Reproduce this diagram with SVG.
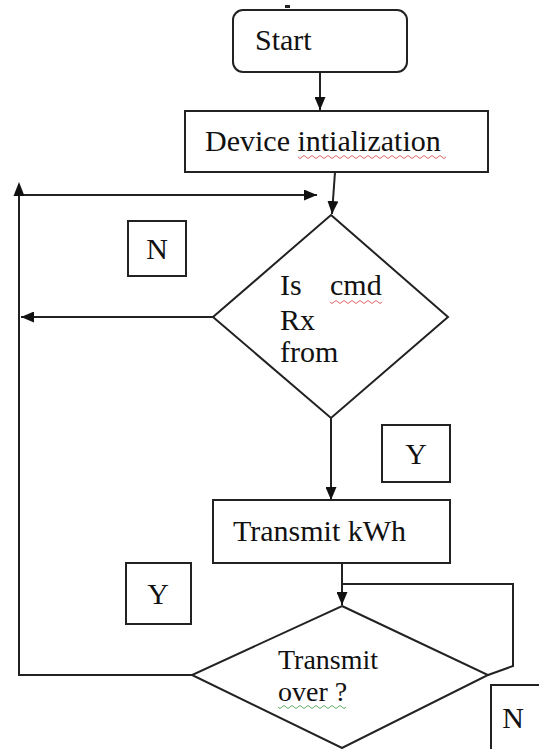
<svg xmlns="http://www.w3.org/2000/svg" width="539" height="749" viewBox="0 0 539 749">
<style>
.shape{fill:#fff;stroke:#222;stroke-width:2}
.lbl{fill:#fff;stroke:#222;stroke-width:2}
.t{font-family:"Liberation Serif","Times New Roman",serif;font-size:30px;fill:#111}
.c{fill:none;stroke:#222;stroke-width:2}
.sq{fill:none;stroke-width:1}
</style>
<defs>
<marker id="ah" viewBox="0 0 13 11" refX="13" refY="5.5" markerWidth="13" markerHeight="11" markerUnits="userSpaceOnUse" orient="auto">
<path d="M0,0 L13,5.5 L0,11 Z" fill="#111"/>
</marker>
</defs>
<rect width="539" height="749" fill="#fff"/>
<rect x="285" y="5" width="5" height="3" fill="#222"/>
<g id="connectors">
<line class="c" x1="320" y1="72" x2="320" y2="110" marker-end="url(#ah)"/>
<line class="c" x1="335" y1="172" x2="332" y2="214" marker-end="url(#ah)"/>
<line class="c" x1="20" y1="195" x2="317" y2="195" marker-end="url(#ah)"/>
<polyline class="c" points="192,675 19,675 19,196"/>
<path d="M19,182 L24.5,196 L13.5,196 Z" fill="#111"/>
<line class="c" x1="213" y1="317" x2="21" y2="317" marker-end="url(#ah)"/>
<line class="c" x1="331" y1="418" x2="331" y2="500" marker-end="url(#ah)"/>
<line class="c" x1="342" y1="563" x2="342" y2="605" marker-end="url(#ah)"/>
<polyline class="c" points="488,675 513,666 513,584 342,584"/>
</g>
<g id="start">
<rect class="shape" x="233" y="10" width="174" height="62" rx="10"/>
<text class="t" x="255" y="50">Start</text>
</g>
<g id="init">
<rect class="shape" x="185" y="111" width="303" height="61"/>
<text class="t" x="205" y="151">Device intialization</text>
<path class="sq" stroke="#d66" d="M298,157 q2,3 4,0 t4,0 t4,0 t4,0 t4,0 t4,0 t4,0 t4,0 t4,0 t4,0 t4,0 t4,0 t4,0 t4,0 t4,0 t4,0 t4,0 t4,0 t4,0 t4,0 t4,0 t4,0 t4,0 t4,0 t4,0 t4,0 t4,0 t4,0 t4,0 t4,0 t4,0 t4,0 t4,0 t4,0 t4,0 t4,0 t4,0"/>
</g>
<g id="cmd">
<polygon class="shape" points="331,215 448,317 331,418 213,317"/>
<text class="t" x="280" y="295">Is <tspan x="330">cmd</tspan></text>
<text class="t" x="280" y="330">Rx</text>
<text class="t" x="280" y="362">from</text>
<path class="sq" stroke="#d66" d="M330,302 q2,3 4,0 t4,0 t4,0 t4,0 t4,0 t4,0 t4,0 t4,0 t4,0 t4,0 t4,0 t4,0 t4,0"/>
</g>
<g id="labelN1">
<rect class="lbl" x="128" y="221" width="58" height="55"/>
<text class="t" x="157" y="259" text-anchor="middle">N</text>
</g>
<g id="labelY1">
<rect class="lbl" x="382" y="425" width="68" height="57"/>
<text class="t" x="416" y="464" text-anchor="middle">Y</text>
</g>
<g id="tx">
<rect class="shape" x="213" y="500" width="237" height="63"/>
<text class="t" x="233" y="541">Transmit kWh</text>
</g>
<g id="labelY2">
<rect class="lbl" x="126" y="563" width="65" height="61"/>
<text class="t" x="158" y="604" text-anchor="middle">Y</text>
</g>
<g id="over">
<polygon class="shape" points="342,606 488,675 342,748 192,675"/>
<text class="t" x="278" y="669" style="font-size:28px">Transmit</text>
<text class="t" x="278" y="701" style="font-size:28px">over ?</text>
<path class="sq" stroke="#6a6" d="M278,707 q2,3 4,0 t4,0 t4,0 t4,0 t4,0 t4,0 t4,0 t4,0 t4,0 t4,0 t4,0 t4,0 t4,0 t4,0 t4,0 t4,0 t4,0"/>
</g>
<g id="labelN2">
<rect class="lbl" x="491" y="685" width="52" height="70"/>
<text class="t" x="513" y="728" text-anchor="middle">N</text>
</g>
</svg>
